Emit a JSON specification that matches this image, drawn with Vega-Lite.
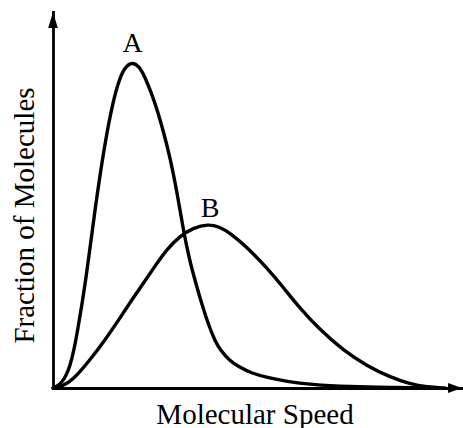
{
  "$schema": "https://vega.github.io/schema/vega-lite/v6.json",
  "width": 409,
  "height": 376,
  "autosize": {"type": "none"},
  "padding": {"left": 53, "top": 12, "right": 1, "bottom": 40},
  "background": "white",
  "config": {"view": {"stroke": null}, "font": "Liberation Serif"},
  "datasets": {
    "curves": [
      {"curve": "A", "speed": 0, "fraction": 0},
      {"curve": "A", "speed": 4, "fraction": 1.5},
      {"curve": "A", "speed": 9, "fraction": 6},
      {"curve": "A", "speed": 13, "fraction": 12},
      {"curve": "A", "speed": 17, "fraction": 22},
      {"curve": "A", "speed": 21, "fraction": 38},
      {"curve": "A", "speed": 25, "fraction": 60},
      {"curve": "A", "speed": 29, "fraction": 84},
      {"curve": "A", "speed": 33, "fraction": 110},
      {"curve": "A", "speed": 37, "fraction": 140},
      {"curve": "A", "speed": 42, "fraction": 178},
      {"curve": "A", "speed": 48, "fraction": 220},
      {"curve": "A", "speed": 54, "fraction": 256},
      {"curve": "A", "speed": 60, "fraction": 286},
      {"curve": "A", "speed": 66, "fraction": 308},
      {"curve": "A", "speed": 72, "fraction": 321},
      {"curve": "A", "speed": 79, "fraction": 326},
      {"curve": "A", "speed": 86, "fraction": 322},
      {"curve": "A", "speed": 92, "fraction": 311},
      {"curve": "A", "speed": 98, "fraction": 296},
      {"curve": "A", "speed": 104, "fraction": 279},
      {"curve": "A", "speed": 110, "fraction": 258},
      {"curve": "A", "speed": 117, "fraction": 231},
      {"curve": "A", "speed": 124, "fraction": 196},
      {"curve": "A", "speed": 130, "fraction": 160},
      {"curve": "A", "speed": 136, "fraction": 130},
      {"curve": "A", "speed": 143, "fraction": 104},
      {"curve": "A", "speed": 150, "fraction": 80},
      {"curve": "A", "speed": 156, "fraction": 62},
      {"curve": "A", "speed": 162, "fraction": 47},
      {"curve": "A", "speed": 168, "fraction": 37},
      {"curve": "A", "speed": 176, "fraction": 28},
      {"curve": "A", "speed": 186, "fraction": 21},
      {"curve": "A", "speed": 198, "fraction": 15},
      {"curve": "A", "speed": 214, "fraction": 10.5},
      {"curve": "A", "speed": 234, "fraction": 6.5},
      {"curve": "A", "speed": 257, "fraction": 3.5},
      {"curve": "A", "speed": 297, "fraction": 1.2},
      {"curve": "A", "speed": 337, "fraction": 0.4},
      {"curve": "A", "speed": 380, "fraction": 0},
      {"curve": "B", "speed": 0, "fraction": 0},
      {"curve": "B", "speed": 9, "fraction": 1.5},
      {"curve": "B", "speed": 20, "fraction": 8},
      {"curve": "B", "speed": 37, "fraction": 28},
      {"curve": "B", "speed": 52, "fraction": 48},
      {"curve": "B", "speed": 67, "fraction": 70},
      {"curve": "B", "speed": 80, "fraction": 90},
      {"curve": "B", "speed": 90, "fraction": 104},
      {"curve": "B", "speed": 100, "fraction": 119},
      {"curve": "B", "speed": 114, "fraction": 139},
      {"curve": "B", "speed": 127, "fraction": 152},
      {"curve": "B", "speed": 140, "fraction": 160},
      {"curve": "B", "speed": 155, "fraction": 164},
      {"curve": "B", "speed": 167, "fraction": 161},
      {"curve": "B", "speed": 177, "fraction": 155},
      {"curve": "B", "speed": 194, "fraction": 141},
      {"curve": "B", "speed": 214, "fraction": 120},
      {"curve": "B", "speed": 230, "fraction": 101},
      {"curve": "B", "speed": 245, "fraction": 82},
      {"curve": "B", "speed": 267, "fraction": 58},
      {"curve": "B", "speed": 290, "fraction": 38},
      {"curve": "B", "speed": 314, "fraction": 22},
      {"curve": "B", "speed": 337, "fraction": 11},
      {"curve": "B", "speed": 357, "fraction": 4},
      {"curve": "B", "speed": 374, "fraction": 1},
      {"curve": "B", "speed": 392, "fraction": 0}
    ],
    "labels": [
      {"label": "A", "speed": 79.5, "fraction": 335.7},
      {"label": "B", "speed": 157, "fraction": 171}
    ]
  },
  "layer": [
    {
      "data": {"name": "curves"},
      "mark": {"type": "line", "interpolate": "basis", "color": "black", "strokeWidth": 3.4, "strokeCap": "round"},
      "encoding": {
        "x": {
          "field": "speed", "type": "quantitative",
          "scale": {"domain": [0, 409], "nice": false, "zero": true},
          "axis": {
            "title": "Molecular Speed", "domain": true, "domainColor": "black", "domainWidth": 2.8, "domainCap": "square",
            "ticks": false, "labels": false, "grid": false,
            "titleFont": "Liberation Serif", "titleFontSize": 29, "titleFontWeight": "normal", "titleColor": "black",
            "titleBaseline": "alphabetic", "titleAlign": "center", "titleX": 201.5, "titleY": 35
          }
        },
        "y": {
          "field": "fraction", "type": "quantitative",
          "scale": {"domain": [0, 376], "nice": false, "zero": true},
          "axis": {
            "title": "Fraction of Molecules", "domain": true, "domainColor": "black", "domainWidth": 2.8, "domainCap": "square",
            "ticks": false, "labels": false, "grid": false,
            "titleFont": "Liberation Serif", "titleFontSize": 29, "titleFontWeight": "normal", "titleColor": "black",
            "titleAngle": 270, "titleBaseline": "alphabetic", "titleAlign": "center", "titleX": -20, "titleY": 203
          }
        },
        "detail": {"field": "curve"}
      }
    },
    {
      "data": {"name": "labels"},
      "mark": {"type": "text", "font": "Liberation Serif", "fontSize": 28, "color": "black", "align": "center", "baseline": "alphabetic"},
      "encoding": {
        "x": {"field": "speed", "type": "quantitative"},
        "y": {"field": "fraction", "type": "quantitative"},
        "text": {"field": "label"}
      }
    },
    {
      "data": {"values": [{}]},
      "mark": {"type": "point", "shape": "M0,0L0.6,2L-0.6,2Z", "filled": true, "color": "black", "opacity": 1, "size": 256},
      "encoding": {
        "x": {"datum": 0, "type": "quantitative"},
        "y": {"datum": 376, "type": "quantitative"}
      }
    },
    {
      "data": {"values": [{}]},
      "mark": {"type": "point", "shape": "M0,0L-2,-0.7L-2,0.7Z", "filled": true, "color": "black", "opacity": 1, "size": 196},
      "encoding": {
        "x": {"datum": 409, "type": "quantitative"},
        "y": {"datum": 0, "type": "quantitative"}
      }
    }
  ]
}
